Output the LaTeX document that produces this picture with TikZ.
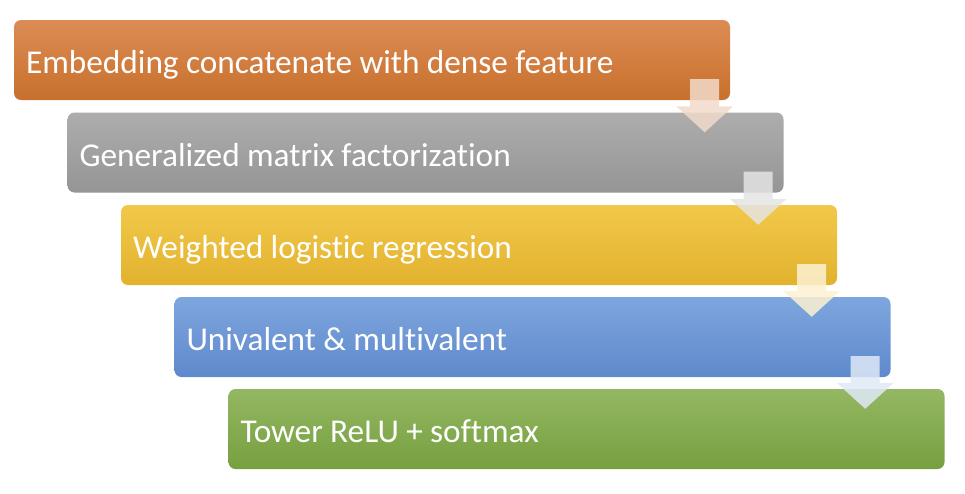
\documentclass[tikz,border=0pt]{standalone}
\usepackage{fontspec}
\setmainfont{Carlito}[RawFeature=-liga]
\usetikzlibrary{calc}

\definecolor{orangetop}{HTML}{DC8C55}
\definecolor{orangebot}{HTML}{C8702C}
\definecolor{graytop}{HTML}{ADADAD}
\definecolor{graybot}{HTML}{959595}
\definecolor{yellowtop}{HTML}{F2C84A}
\definecolor{yellowbot}{HTML}{E2B22E}
\definecolor{bluetop}{HTML}{7EA6DE}
\definecolor{bluebot}{HTML}{5E89CC}
\definecolor{greentop}{HTML}{94B763}
\definecolor{greenbot}{HTML}{76A03F}

\tikzset{
  stage/.style={rounded corners=7pt, minimum height=80pt, text width=692pt,
    inner xsep=12pt, inner ysep=0pt, align=left, text=white,
    text height=35pt, text depth=8pt, font=\fontsize{33.3}{40}\selectfont,
    execute at begin node={\spaceskip=0.22em\relax}},
  downarrow/.style={fill=#1!25!white, opacity=.85}
}

\begin{document}
\begin{tikzpicture}[x=1pt,y=-1pt]
  \useasboundingbox (0,0) rectangle (965,493);

  % the five stages
  \node[stage, top color=orangetop, bottom color=orangebot] (embed) at (372,60) {Embedding concatenate with dense feature};
  \node[stage, top color=graytop, bottom color=graybot] (gmf) at (425.5,152.5) {Generalized matrix factorization};
  \node[stage, top color=yellowtop, bottom color=yellowbot] (wlr) at (479,245) {Weighted logistic regression};
  \node[stage, top color=bluetop, bottom color=bluebot] (valent) at (532.5,337) {Univalent \& multivalent};
  \node[stage, top color=greentop, bottom color=greenbot] (tower) at (586.5,429) {Tower ReLU + softmax};

  % arrows between the stages
  \foreach \upper/\lower/\col in {embed/gmf/orangebot, gmf/wlr/graybot, wlr/valent/yellowtop, valent/tower/bluetop}{
    \coordinate (a) at (\upper.south east);
    \coordinate (b) at (\upper.south east |- \lower.north);
    \fill[downarrow=\col] ($(a)+(-40,-21)$) -- ($(a)+(-11,-21)$) -- ($(b)+(-11,-6)$) -- ($(b)+(3,-6)$)
      -- ($(b)+(-25.5,20)$) -- ($(b)+(-54,-6)$) -- ($(b)+(-40,-6)$) -- cycle;
  }
\end{tikzpicture}
\end{document}
